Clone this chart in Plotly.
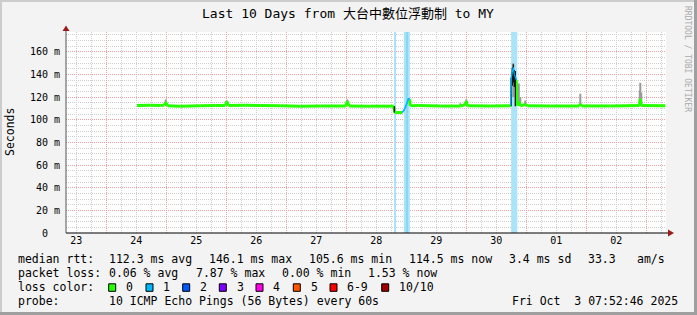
from datetime import datetime
import plotly.graph_objects as go

# ------------------------------------------------------------------ data
range_start = "2025-09-23 07:52:46"
range_end = "2025-10-03 07:52:46"

title_text = "Last 10 Days from 大台中數位浮動制 to MY"
y_title = "Seconds"
credit_text = "RRDTOOL / TOBI OETIKER"

# median round-trip time (seconds) and packets lost (of 10) per sample
median_time = [
    "2025-09-24 12:17", "2025-09-24 17:36", "2025-09-24 21:36", "2025-09-24 23:12",
    "2025-09-24 23:48", "2025-09-25 00:24", "2025-09-25 05:36", "2025-09-25 13:36",
    "2025-09-25 19:36", "2025-09-25 23:36", "2025-09-26 00:12", "2025-09-26 00:48",
    "2025-09-26 07:36", "2025-09-26 13:36", "2025-09-26 21:36", "2025-09-27 05:36",
    "2025-09-27 13:36", "2025-09-27 23:48", "2025-09-28 00:24", "2025-09-28 01:00",
    "2025-09-28 09:36", "2025-09-28 19:00", "2025-09-28 19:24", "2025-09-28 22:24",
    "2025-09-28 23:12", "2025-09-29 00:00", "2025-09-29 00:55", "2025-09-29 01:19",
    "2025-09-29 01:36", "2025-09-29 04:48", "2025-09-29 13:36", "2025-09-29 21:36",
    "2025-09-29 23:36", "2025-09-30 00:00", "2025-09-30 00:24", "2025-09-30 09:36",
    "2025-09-30 17:48", "2025-09-30 18:00", "2025-09-30 18:24", "2025-09-30 18:48",
    "2025-09-30 19:12", "2025-09-30 19:36", "2025-09-30 20:00", "2025-09-30 20:17",
    "2025-09-30 21:12", "2025-09-30 21:36", "2025-09-30 23:36", "2025-10-01 00:24",
    "2025-10-01 09:36", "2025-10-01 21:12", "2025-10-01 21:36", "2025-10-01 22:00",
    "2025-10-02 09:36", "2025-10-02 21:12", "2025-10-02 21:36", "2025-10-02 22:00",
    "2025-10-03 07:36",
]
median_sec = [
    0.1126, 0.1129, 0.1125, 0.1128,
    0.1155, 0.1124, 0.1120, 0.1123,
    0.1126, 0.1126, 0.1160, 0.1126,
    0.1128, 0.1125, 0.1123, 0.1120,
    0.1121, 0.1122, 0.1165, 0.1122,
    0.1120, 0.1120, 0.1064, 0.1064,
    0.1090, 0.1130, 0.1190, 0.1180,
    0.1124, 0.1126, 0.1121, 0.1121,
    0.1135, 0.1165, 0.1123, 0.1122,
    0.1123, 0.1370, 0.1420, 0.1461,
    0.1400, 0.1380, 0.1350, 0.1125,
    0.1160, 0.1123, 0.1135, 0.1123,
    0.1121, 0.1122, 0.1140, 0.1122,
    0.1122, 0.1125, 0.1185, 0.1125,
    0.1124,
]
median_loss = [
    0, 0, 0, 0, 0, 0, 0, 0, 0, 0, 0, 0, 0, 0, 0, 0, 0, 0, 0, 0,
    0, 0, 0, 0, 1, 1, 1, 1, 0, 0, 0, 0, 0, 0, 0, 0, 0, 1, 1, 1,
    1, 1, 1, 0, 0, 0, 0, 0, 0, 0, 0, 0, 0, 0, 0, 0, 0,
]

# packet-loss background bars
loss_band_start = ["2025-09-28 19:12", "2025-09-28 23:00", "2025-09-29 00:00", "2025-09-30 18:00"]
loss_band_end = ["2025-09-28 19:36", "2025-09-29 01:24", "2025-09-29 00:24", "2025-09-30 20:24"]
loss_band_level = [1, 1, 2, 1]

# "smoke": spread of the individual pings
smoke_dark_time = ["2025-09-28 19:12", "2025-09-30 18:00", "2025-09-30 18:24",
                   "2025-09-30 18:48", "2025-09-30 19:12", "2025-09-30 19:36"]
smoke_dark_lo = [0.1064, 0.1120, 0.1300, 0.1330, 0.1290, 0.1120]
smoke_dark_hi = [0.1120, 0.1370, 0.1460, 0.1490, 0.1440, 0.1430]

smoke_light_time = ["2025-09-24 23:48", "2025-09-26 00:12", "2025-09-28 00:24",
                    "2025-09-29 21:36", "2025-09-30 00:00", "2025-09-30 18:48",
                    "2025-09-30 21:00", "2025-09-30 21:36", "2025-09-30 23:36",
                    "2025-10-01 21:36", "2025-10-02 21:24", "2025-10-02 21:36",
                    "2025-10-02 22:00"]
smoke_light_lo = [0.1120, 0.1120, 0.1120, 0.1120, 0.1120, 0.1200,
                  0.1120, 0.1120, 0.1120, 0.1120, 0.1130, 0.1120, 0.1120]
smoke_light_hi = [0.1180, 0.1170, 0.1180, 0.1145, 0.1180, 0.1500,
                  0.1320, 0.1200, 0.1170, 0.1230, 0.1260, 0.1326, 0.1240]

day_label_time = ["2025-09-23 12:00", "2025-09-24 12:00", "2025-09-25 12:00",
                  "2025-09-26 12:00", "2025-09-27 12:00", "2025-09-28 12:00",
                  "2025-09-29 12:00", "2025-09-30 12:00", "2025-10-01 12:00",
                  "2025-10-02 12:00"]
day_label_text = ["23", "24", "25", "26", "27", "28", "29", "30", "01", "02"]

y_tick_vals = [0, 0.02, 0.04, 0.06, 0.08, 0.10, 0.12, 0.14, 0.16]
y_tick_text = ["0\u00a0\u00a0", "20 m", "40 m", "60 m", "80 m", "100 m", "120 m", "140 m", "160 m"]
y_max = 0.1775

loss_color_labels = ["0", "1", "2", "3", "4", "5", "6-9", "10/10"]
loss_colors = ["#26ff00", "#00b8ff", "#0059ff", "#7e00ff", "#ff00ea", "#ff5500", "#ff0000", "#a10000"]
band_colors = {1: "#aae4f8", 2: "#8ad7f4"}

row1_text = ["median rtt:", "112.3 ms avg", "146.1 ms max", "105.6 ms min",
             "114.5 ms now", "3.4 ms sd", "33.3", "am/s"]
row2_text = ["packet loss:", "0.06 % avg", "7.87 % max", "0.00 % min", "1.53 % now"]
row3_text = ["loss color:"]
row4_text = ["probe:", "10 ICMP Echo Pings (56 Bytes) every 60s"]
stamp_text = "Fri Oct\u00a0 3 07:52:46 2025"

# ------------------------------------------------------------------ layout helpers
W, H = 697, 315
L, R, T, B = 66, 666, 32, 233
MONO = "DejaVu Sans Mono, Noto Sans CJK TC, monospace"
FMT = "%Y-%m-%d %H:%M"


def px(x):
    return (x - L) / (R - L)


def py(y):
    return (B - y) / (B - T)


fig = go.Figure()

# loss background bars (bar trace so they sit above the grid, below lines)
bx, bw, bc = [], [], []
for s, e, lv in zip(loss_band_start, loss_band_end, loss_band_level):
    ds, de = datetime.strptime(s, FMT), datetime.strptime(e, FMT)
    bx.append(ds + (de - ds) / 2)
    bw.append((de - ds).total_seconds() * 1000)
    bc.append(band_colors[lv])
fig.add_trace(go.Bar(x=bx, y=[y_max] * len(bx), base=0, width=bw,
                     marker=dict(color=bc, line=dict(width=0)),
                     hoverinfo="skip", showlegend=False))

# median line coloured by loss
segs = {}
for i in range(1, len(median_time)):
    c = median_loss[i]
    xs, ys = segs.setdefault(c, ([], []))
    xs += [median_time[i - 1], median_time[i], None]
    ys += [median_sec[i - 1], median_sec[i], None]

# light smoke
sx, sy = [], []
for t, lo, hi in zip(smoke_light_time, smoke_light_lo, smoke_light_hi):
    sx += [t, t, None]
    sy += [lo, hi, None]
fig.add_trace(go.Scatter(x=sx, y=sy, mode="lines", line=dict(color="#9a9a9a", width=2),
                         hoverinfo="skip", showlegend=False))

for c in sorted(segs):
    xs, ys = segs[c]
    fig.add_trace(go.Scatter(x=xs, y=ys, mode="lines",
                             line=dict(color=loss_colors[c], width=3 if c == 0 else 1.5),
                             hoverinfo="skip", showlegend=False))

# dark smoke
dx, dy = [], []
for t, lo, hi in zip(smoke_dark_time, smoke_dark_lo, smoke_dark_hi):
    dx += [t, t, None]
    dy += [lo, hi, None]
fig.add_trace(go.Scatter(x=dx, y=dy, mode="lines", line=dict(color="#111111", width=1.3),
                         hoverinfo="skip", showlegend=False))

# re-draw loss-coloured segments on top of smoke
for c in sorted(segs):
    if c == 0:
        continue
    xs, ys = segs[c]
    fig.add_trace(go.Scatter(x=xs, y=ys, mode="lines",
                             line=dict(color=loss_colors[c], width=1.2),
                             hoverinfo="skip", showlegend=False))

# dummy trace for the label axis
fig.add_trace(go.Scatter(x=[range_start], y=[0], xaxis="x2", mode="markers",
                         marker=dict(opacity=0), hoverinfo="skip", showlegend=False))

GRID_MINOR = "#cfcfcf"
GRID_MAJOR = "#eaa2a2"
DASH = "1px,1px"

fig.update_layout(
    width=W, height=H,
    margin=dict(l=L, r=W - R, t=T, b=H - B, pad=0),
    paper_bgcolor="#f3f3f3",
    plot_bgcolor="#ffffff",
    showlegend=False,
    barmode="overlay",
    xaxis=dict(
        type="date", range=[range_start, range_end],
        tickmode="linear", tick0="2025-09-23 00:00", dtick=86400000,
        showticklabels=False, ticks="",
        showgrid=True, gridcolor=GRID_MAJOR, griddash=DASH, gridwidth=1,
        minor=dict(tick0="2025-09-23 00:00", dtick=21600000, showgrid=True,
                   gridcolor=GRID_MINOR, griddash=DASH, gridwidth=1),
        showline=False, zeroline=False, fixedrange=True,
    ),
    xaxis2=dict(
        type="date", range=[range_start, range_end], overlaying="x", anchor="y", side="bottom",
        tickmode="array", tickvals=day_label_time, ticktext=day_label_text,
        showgrid=False, showline=False, zeroline=False, ticks="",
        tickfont=dict(family=MONO, size=10, color="#000000"),
    ),
    yaxis=dict(
        range=[0, y_max],
        tickmode="array", tickvals=y_tick_vals, ticktext=y_tick_text,
        showgrid=True, gridcolor=GRID_MAJOR, griddash=DASH, gridwidth=1,
        minor=dict(tickmode="linear", tick0=0, dtick=0.005, showgrid=True,
                   gridcolor=GRID_MINOR, griddash=DASH, gridwidth=1),
        showline=False, zeroline=False, ticks="", ticklabelstandoff=5,
        tickfont=dict(family=MONO, size=10, color="#000000"),
    ),
)

# axis lines and arrows
shapes = [
    dict(type="line", xref="paper", yref="paper", x0=px(L), x1=px(669), y0=py(B), y1=py(B),
         line=dict(color="#000000", width=1.2)),
    dict(type="line", xref="paper", yref="paper", x0=px(L), x1=px(L), y0=py(B), y1=py(30),
         line=dict(color="#555555", width=1)),
    dict(type="path", xref="paper", yref="paper",
         path=f"M {px(668)},{py(229.5)} L {px(674)},{py(B)} L {px(668)},{py(236.5)} Z",
         fillcolor="#9b1b1b", line=dict(width=0)),
    dict(type="path", xref="paper", yref="paper",
         path=f"M {px(62.5)},{py(31)} L {px(L)},{py(25.5)} L {px(69.5)},{py(31)} Z",
         fillcolor="#9b1b1b", line=dict(width=0)),
    # frame
    dict(type="line", xref="paper", yref="paper", x0=px(0), x1=px(W), y0=py(1), y1=py(1),
         line=dict(color="#cccccc", width=2)),
    dict(type="line", xref="paper", yref="paper", x0=px(1), x1=px(1), y0=py(0), y1=py(H),
         line=dict(color="#cccccc", width=2)),
    dict(type="line", xref="paper", yref="paper", x0=px(695.5), x1=px(695.5), y0=py(0), y1=py(H),
         line=dict(color="#9f9f9f", width=3)),
    dict(type="line", xref="paper", yref="paper", x0=px(0), x1=px(W), y0=py(313.5), y1=py(313.5),
         line=dict(color="#9f9f9f", width=3)),
]

annotations = []


def txt(s, x, y, size=11.5, anchor="left", color="#000000", angle=0):
    annotations.append(dict(text=s, xref="paper", yref="paper", x=px(x), y=py(y),
                            xanchor=anchor, yanchor="middle", showarrow=False,
                            textangle=angle,
                            font=dict(family=MONO, size=size, color=color)))


txt(title_text, 347.5, 14, size=13, anchor="center")
txt(y_title, 10, 132, size=11.5, anchor="center", angle=-90)
txt(credit_text, 688, 59, size=8, anchor="center", color="#aaaaaa", angle=90)

rows_y = [259.3, 273.3, 287.3, 301]
row1_x = [16, 107.3, 207.3, 306.7, 407.3, 506.7, 586, 635]
row2_x = [16, 107.3, 193.5, 279.5, 366]
for s, x in zip(row1_text, row1_x):
    txt(s, x, rows_y[0])
for s, x in zip(row2_text, row2_x):
    txt(s, x, rows_y[1])
txt(row3_text[0], 16, rows_y[2])
sq_x = [108.7, 146, 182.7, 219.3, 256, 293.3, 330, 381.7]
for lab, col, x in zip(loss_color_labels, loss_colors, sq_x):
    shapes.append(dict(type="rect", xref="paper", yref="paper",
                       x0=px(x), x1=px(x + 7), y0=py(rows_y[2] + 4), y1=py(rows_y[2] - 3.5),
                       fillcolor=col, line=dict(color="#000000", width=1)))
    txt(lab, x + 15.3, rows_y[2])
txt(row4_text[0], 16, rows_y[3])
txt(row4_text[1], 107.3, rows_y[3])
txt(stamp_text, 680, rows_y[3], anchor="right")

fig.update_layout(shapes=shapes, annotations=annotations)
fig.write_html("out.html")
